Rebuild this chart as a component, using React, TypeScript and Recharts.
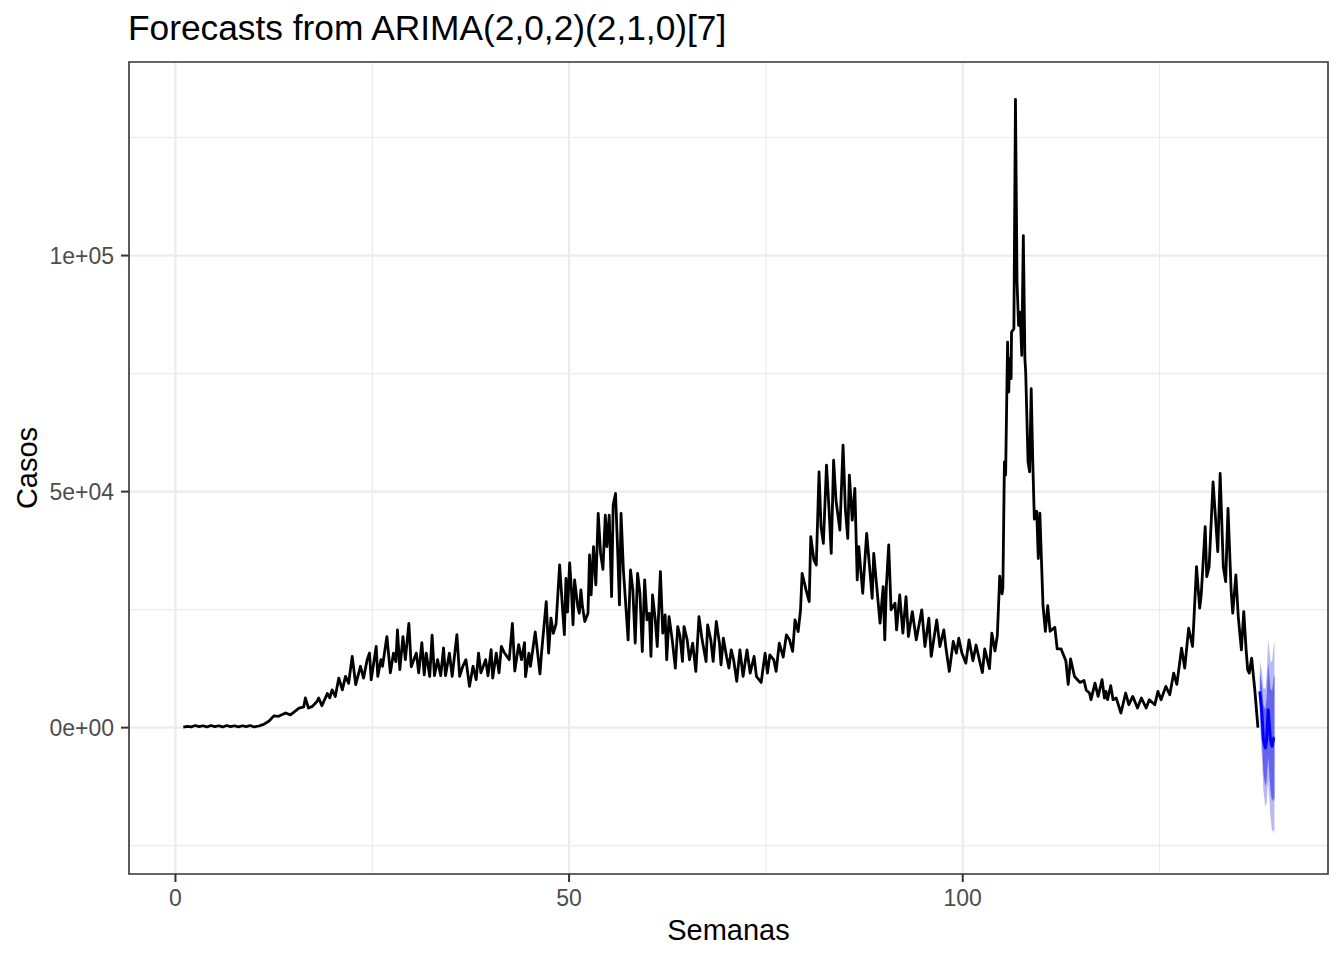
import {
  ComposedChart,
  Line,
  Area,
  XAxis,
  YAxis,
  CartesianGrid,
  ReferenceArea,
} from 'recharts';

// casos diarios: [semana, casos]
const tramoInicio: [number, number][] = [
  [1, 100], [1.5, 250], [2, 150], [2.5, 450], [3, 200], [3.5, 400], [4, 150], [4.5, 450],
  [5, 200], [5.5, 400], [6, 150], [6.5, 450], [7, 200], [7.5, 400], [8, 150], [8.5, 400],
  [9, 200], [9.5, 450], [10, 150], [10.6, 350], [11.2, 700], [11.9, 1400], [12.5, 2500],
  [13.1, 2400], [14, 3100], [14.6, 2700], [15.7, 4150], [16.3, 4400], [16.5, 6300],
  [16.9, 4150], [17.4, 4500], [18, 5600], [18.2, 6300], [18.6, 4650], [19.3, 7250],
  [19.6, 6300], [19.9, 8000], [20.3, 6600], [20.75, 10500], [21.2, 8000], [21.6, 10850],
  [22, 9400], [22.45, 15100], [22.9, 9100], [23.5, 13000], [23.9, 10500], [24.35, 14400],
];

const tramoMeseta: [number, number][] = [
  [24.65, 15800], [24.86, 10150], [25.5, 17200], [25.7, 10850], [26.1, 14400], [26.3, 13000],
  [26.86, 19300], [27.3, 11600], [27.7, 15800], [28.0, 14000], [28.2, 20700], [28.5, 12300],
  [28.9, 19300], [29.2, 14400], [29.65, 22100], [29.95, 12900], [30.6, 15800], [30.9, 11600],
  [31.3, 18000], [31.6, 11200], [31.85, 15800], [32.3, 10850], [32.6, 19600], [32.9, 11000],
  [33.3, 14400], [33.7, 11000], [34.05, 16900], [34.3, 11000], [34.8, 15800], [35.15, 10850],
  [35.75, 19700], [36.1, 10850], [36.5, 13000], [36.9, 14400], [37.35, 8750], [37.8, 13000],
  [38.2, 10150], [38.5, 15800], [38.8, 11600], [39.4, 14400], [39.7, 11000], [40.1, 16500],
  [40.3, 10500], [40.75, 15800], [41.1, 11600], [41.4, 17200], [41.8, 15800], [42.4, 14400],
  [42.8, 22100], [43.1, 12000], [43.6, 17600], [43.96, 14400], [44.34, 18000], [44.47, 10800],
  [44.9, 15800], [45.1, 13000], [45.7, 20300], [46.1, 14400], [46.3, 11400], [46.5, 15800],
  [47.1, 26700], [47.4, 15800], [47.7, 23200], [48.0, 20000], [48.35, 22000], [48.8, 34500],
  [49.15, 25700], [49.4, 19700], [49.6, 31600], [49.8, 24500], [50.07, 34900], [50.3, 29200],
  [50.5, 21800], [50.7, 31300], [51.1, 25700],
];

const tramoSegundaOla: [number, number][] = [
  [51.3, 24240], [51.5, 29170], [51.7, 25650], [52.0, 22480], [52.4, 24240], [52.6, 36570],
  [52.8, 28120], [53.1, 38330], [53.4, 30230], [53.7, 45380], [54.0, 36930], [54.3, 33540],
  [54.6, 45030], [54.8, 38330], [55.1, 45030], [55.4, 27760], [55.6, 47140], [55.9, 49610],
  [56.2, 36220], [56.4, 26000], [56.6, 45380], [56.9, 33400], [57.5, 18600], [57.8, 33400],
  [58.1, 29170], [58.4, 17900], [58.7, 32700], [59.0, 28470], [59.3, 16130], [59.6, 31290],
  [59.9, 22830], [60.2, 24240], [60.4, 15080], [60.6, 28120], [60.95, 22830], [61.2, 17190],
  [61.6, 33050], [61.9, 20020], [62.2, 23890], [62.4, 14380], [62.7, 23530], [63.1, 18600],
  [63.5, 12620], [63.8, 21420], [64.1, 19300], [64.4, 14020], [64.6, 21420], [65.0, 18600],
  [65.3, 14380], [65.7, 17900], [66.1, 11910], [66.5, 23530], [66.9, 18600], [67.4, 14020],
  [67.6, 21770], [68.0, 18600], [68.3, 14020], [68.7, 22480], [69.1, 17900], [69.3, 13320],
  [69.6, 18950], [70.0, 15080], [70.3, 12620], [70.6, 16490], [70.9, 14380], [71.3, 9800],
  [71.7, 16490], [72.1, 10850], [72.6, 16490], [73.0, 11560], [73.5, 15080], [73.8, 10850],
  [74.4, 9580], [74.9, 15790], [75.2, 11560], [75.5, 15430], [76.0, 14380], [76.3, 11910],
];

const tramoTerceraOla: [number, number][] = [
  [76.7, 17900], [77.2, 14940], [77.6, 19660], [78.0, 18600], [78.4, 16130], [78.7, 22830],
  [79.1, 20360], [79.4, 24950], [79.6, 32700], [80.1, 29170], [80.5, 26700], [80.7, 40440],
  [81.1, 35520], [81.4, 34460], [81.75, 54190], [82.0, 42560], [82.3, 39040], [82.7, 55600],
  [83.0, 46790], [83.3, 36920], [83.6, 56660], [83.9, 48200], [84.4, 41860], [84.8, 59830],
  [85.1, 46080], [85.4, 40100], [85.6, 53490], [85.97, 43970], [86.3, 50670], [86.6, 31290],
  [86.8, 38330], [87.3, 28470], [87.8, 41150], [88.2, 33400], [88.5, 27410], [88.7, 36930],
  [89.0, 31290], [89.5, 22130], [89.9, 29880], [90.1, 18600], [90.3, 29880], [90.6, 38690],
  [90.9, 24950], [91.4, 26360], [91.6, 20720], [92.0, 28120], [92.4, 20020], [92.8, 27760],
  [93.1, 19300], [93.6, 24590], [94.1, 18600], [94.8, 24950], [95.2, 17190], [95.7, 23180],
  [96.0, 15080], [96.7, 22830], [97.1, 17190], [97.6, 20720], [97.9, 16490], [98.3, 11910],
  [98.8, 18250], [99.2, 15790], [99.5, 18950], [99.9, 15790], [100.4, 13670], [100.8, 18600],
];

const tramoPico: [number, number][] = [
  [101.3, 14170], [101.7, 17500], [102.2, 13750], [102.5, 11670], [102.8, 16670], [103.4, 12500],
  [103.7, 20000], [104.1, 16250], [104.4, 19580], [104.7, 32080], [105.0, 28330], [105.1, 29580],
  [105.3, 56300], [105.45, 53500], [105.7, 81670], [105.85, 71100], [105.95, 78150],
  [106.15, 73920], [106.2, 83780], [106.5, 84490], [106.7, 133100], [106.9, 94350],
  [107.1, 85190], [107.3, 88010], [107.5, 78850], [107.7, 104220], [107.9, 78150],
  [108.0, 75330], [108.3, 56300], [108.5, 54190], [108.7, 71800], [108.9, 56300],
  [109.1, 44170], [109.4, 45830], [109.6, 35830], [109.8, 45420], [110.2, 25830],
  [110.5, 20420], [110.8, 25830], [111.1, 20420], [111.7, 21250], [112.0, 16670],
  [112.5, 16670], [113.1, 14170], [113.4, 9170], [113.7, 14580], [114.2, 10830],
  [114.9, 9580], [115.4, 10000], [115.7, 7920], [116.1, 7330],
];

const tramoFinal: [number, number][] = [
  [116.3, 5920], [116.8, 9440], [117.2, 6620], [117.7, 10150], [118.0, 6270], [118.2, 7670],
  [118.4, 5920], [118.8, 8880], [119.1, 5920], [119.5, 6270], [120.1, 3100], [120.7, 7330],
  [121.1, 4860], [121.6, 6620], [122.2, 4160], [122.7, 6270], [123.3, 4160], [123.7, 5920],
  [124.4, 4860], [124.8, 7670], [125.2, 5920], [125.8, 8740], [126.3, 6970], [126.8, 11560],
  [127.2, 9160], [127.8, 16840], [128.2, 12620], [128.7, 21070], [129.2, 17190], [129.7, 34110],
  [130.1, 25300], [130.3, 28250], [130.8, 42560], [131.0, 32000], [131.3, 34110], [131.8, 52070],
  [132.4, 37280], [132.7, 53840], [133.1, 34110], [133.4, 30930], [133.7, 46440], [134.1, 28950],
  [134.3, 24240], [134.7, 32340], [135.0, 23540], [135.4, 16490], [135.7, 24590], [136.0, 16490],
  [136.2, 12260], [136.4, 11560], [136.7, 14730], [137.1, 8030], [137.5, 0],
];

// pronostico a 14 dias
const semanasPronostico = [137.74, 138.0, 138.2, 138.45, 138.6, 138.8, 139.1, 139.3, 139.5, 139.6];
const mediaPronostico = [7680, 3100, -2540, -4300, -2540, 3800, -2540, -3940, -2180, -2180];
const sup95 = [13980, 12100, 8460, 8200, 10960, 18800, 13960, 14060, 17320, 18320];
const sup80 = [11780, 9000, 4660, 3900, 6260, 13600, 8260, 7760, 10520, 11220];
const inf80 = [3580, -2800, -9740, -12500, -11340, -6000, -13340, -15640, -14880, -15580];
const inf95 = [1380, -5900, -13540, -16800, -16040, -11200, -19040, -21940, -21680, -22680];

const ticksX = [0, 50, 100];
const ticksY = [0, 50000, 100000];
const etiquetasY = ['0e+00', '5e+04', '1e+05'];
const menoresX = [25, 75, 125];
const menoresY = [-25000, 25000, 75000, 125000];

const dominioX: [number, number] = [-5.9, 146.4];
const dominioY: [number, number] = [-31000, 141000];

const observados = [
  ...tramoInicio,
  ...tramoMeseta,
  ...tramoSegundaOla,
  ...tramoTerceraOla,
  ...tramoPico,
  ...tramoFinal,
].map(([semana, casos]) => ({ semana, casos }));

const pronostico = semanasPronostico.map((semana, i) => ({
  semana,
  media: mediaPronostico[i],
  r95: [inf95[i], sup95[i]],
  r80: [inf80[i], sup80[i]],
}));

const fuente = "'Liberation Sans', Arial, Helvetica, sans-serif";

export default function App() {
  return (
    <div
      style={{
        position: 'absolute',
        left: 0,
        top: 0,
        width: 1344,
        height: 960,
        background: '#fff',
        fontFamily: fuente,
      }}
    >
      <div
        style={{
          position: 'absolute',
          left: 128,
          top: 10,
          fontSize: 35.3,
          lineHeight: '35px',
          color: '#000',
          whiteSpace: 'nowrap',
        }}
      >
        Forecasts from ARIMA(2,0,2)(2,1,0)[7]
      </div>
      <ComposedChart width={1344} height={960} margin={{ top: 62, right: 16, bottom: 0, left: 0 }}>
        <CartesianGrid
          horizontalValues={menoresY}
          verticalValues={menoresX}
          stroke="#ebebeb"
          strokeWidth={1.1}
        />
        <CartesianGrid
          horizontalValues={ticksY}
          verticalValues={ticksX}
          stroke="#ebebeb"
          strokeWidth={2.2}
        />
        <XAxis
          type="number"
          dataKey="semana"
          domain={dominioX}
          ticks={ticksX}
          allowDataOverflow
          height={86}
          axisLine={false}
          tickSize={8}
          tickMargin={8}
          tickLine={{ stroke: '#333', strokeWidth: 2 }}
          tick={{ fill: '#4d4d4d', fontSize: 23 }}
          label={{ value: 'Semanas', position: 'insideBottom', offset: 20, fill: '#000', fontSize: 29 }}
        />
        <YAxis
          type="number"
          domain={dominioY}
          ticks={ticksY}
          allowDataOverflow
          width={129}
          axisLine={false}
          tickSize={8}
          tickMargin={7}
          tickLine={{ stroke: '#333', strokeWidth: 2 }}
          tick={{ fill: '#4d4d4d', fontSize: 23 }}
          tickFormatter={(v: number) => etiquetasY[ticksY.indexOf(v)] ?? String(v)}
          label={{
            content: () => (
              <text
                x={37}
                y={468}
                transform="rotate(-90 37 468)"
                textAnchor="middle"
                fontSize={29}
                fill="#000"
              >
                Casos
              </text>
            ),
          }}
        />
        <Area
          data={pronostico}
          dataKey="r95"
          type="linear"
          stroke="none"
          fill="#b9b9f6"
          fillOpacity={1}
          isAnimationActive={false}
        />
        <Area
          data={pronostico}
          dataKey="r80"
          type="linear"
          stroke="none"
          fill="#6464ee"
          fillOpacity={1}
          isAnimationActive={false}
        />
        <Line
          data={observados}
          dataKey="casos"
          type="linear"
          stroke="#000"
          strokeWidth={2.8}
          strokeLinejoin="round"
          dot={false}
          isAnimationActive={false}
        />
        <Line
          data={pronostico}
          dataKey="media"
          type="linear"
          stroke="#0000ff"
          strokeWidth={3}
          strokeLinejoin="round"
          dot={false}
          isAnimationActive={false}
        />
        <ReferenceArea
          x1={dominioX[0]}
          x2={dominioX[1]}
          y1={dominioY[0]}
          y2={dominioY[1]}
          fill="none"
          stroke="#333"
          strokeWidth={1.6}
          ifOverflow="visible"
        />
      </ComposedChart>
    </div>
  );
}
